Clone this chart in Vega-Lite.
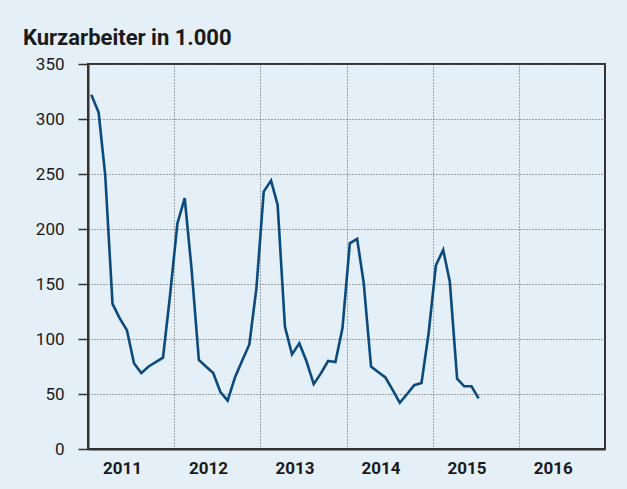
{
  "$schema": "https://vega.github.io/schema/vega-lite/v6.json",
  "autosize": {"type": "none"},
  "width": 517,
  "height": 385,
  "padding": {"left": 88, "top": 64, "right": 22, "bottom": 40},
  "background": "#e5eff7",
  "title": {
    "text": "Kurzarbeiter in 1.000",
    "anchor": "start",
    "frame": "group",
    "orient": "top",
    "dx": -65,
    "dy": 31,
    "offset": 19,
    "baseline": "alphabetic",
    "font": "Roboto",
    "fontSize": 22,
    "fontWeight": "bold",
    "color": "#1a1a1a"
  },
  "config": {
    "view": {"stroke": "#333333", "strokeWidth": 2, "fill": "#e5eff7"},
    "font": "Roboto"
  },
  "data": {
    "values": [
      {"date": "2011-01-15", "v": 322}, {"date": "2011-02-15", "v": 306}, {"date": "2011-03-15", "v": 249},
      {"date": "2011-04-15", "v": 132}, {"date": "2011-05-15", "v": 119}, {"date": "2011-06-15", "v": 108},
      {"date": "2011-07-15", "v": 78}, {"date": "2011-08-15", "v": 69}, {"date": "2011-09-15", "v": 75},
      {"date": "2011-10-15", "v": 79}, {"date": "2011-11-15", "v": 83}, {"date": "2011-12-15", "v": 140},
      {"date": "2012-01-15", "v": 205}, {"date": "2012-02-15", "v": 228}, {"date": "2012-03-15", "v": 164},
      {"date": "2012-04-15", "v": 81}, {"date": "2012-05-15", "v": 75}, {"date": "2012-06-15", "v": 69},
      {"date": "2012-07-15", "v": 52}, {"date": "2012-08-15", "v": 44}, {"date": "2012-09-15", "v": 65},
      {"date": "2012-10-15", "v": 80}, {"date": "2012-11-15", "v": 95}, {"date": "2012-12-15", "v": 146},
      {"date": "2013-01-15", "v": 234}, {"date": "2013-02-15", "v": 244}, {"date": "2013-03-15", "v": 222},
      {"date": "2013-04-15", "v": 111}, {"date": "2013-05-15", "v": 86}, {"date": "2013-06-15", "v": 96},
      {"date": "2013-07-15", "v": 80}, {"date": "2013-08-15", "v": 59}, {"date": "2013-09-15", "v": 69},
      {"date": "2013-10-15", "v": 80}, {"date": "2013-11-15", "v": 79}, {"date": "2013-12-15", "v": 110},
      {"date": "2014-01-15", "v": 187}, {"date": "2014-02-15", "v": 191}, {"date": "2014-03-15", "v": 151},
      {"date": "2014-04-15", "v": 75}, {"date": "2014-05-15", "v": 70}, {"date": "2014-06-15", "v": 65},
      {"date": "2014-07-15", "v": 54}, {"date": "2014-08-15", "v": 42}, {"date": "2014-09-15", "v": 50},
      {"date": "2014-10-15", "v": 58}, {"date": "2014-11-15", "v": 60}, {"date": "2014-12-15", "v": 105},
      {"date": "2015-01-15", "v": 167}, {"date": "2015-02-15", "v": 181}, {"date": "2015-03-15", "v": 152},
      {"date": "2015-04-15", "v": 64}, {"date": "2015-05-15", "v": 57}, {"date": "2015-06-15", "v": 57},
      {"date": "2015-07-15", "v": 46}
    ]
  },
  "mark": {"type": "line", "color": "#0b4a7d", "strokeWidth": 2.6, "strokeJoin": "miter", "clip": true},
  "encoding": {
    "x": {
      "field": "date",
      "type": "temporal",
      "scale": {"type": "utc", "domain": [{"year": 2011, "month": 1, "date": 1, "utc": true}, {"year": 2017, "month": 1, "date": 1, "utc": true}]},
      "axis": {
        "title": null,
        "values": [
          {"year": 2011, "month": 1, "date": 1, "utc": true},
          {"year": 2012, "month": 1, "date": 1, "utc": true},
          {"year": 2013, "month": 1, "date": 1, "utc": true},
          {"year": 2014, "month": 1, "date": 1, "utc": true},
          {"year": 2015, "month": 1, "date": 1, "utc": true},
          {"year": 2016, "month": 1, "date": 1, "utc": true}
        ],
        "format": "%Y",
        "formatType": "utc",
        "ticks": false,
        "domain": true,
        "domainColor": "#333333",
        "domainWidth": 2,
        "grid": true,
        "gridColor": "#555555",
        "gridDash": [1, 2],
        "gridWidth": 1,
        "labelAlign": "center",
        "labelOffset": 34,
        "labelPadding": 11,
        "labelFont": "Roboto",
        "labelFontSize": 17,
        "labelFontWeight": "bold",
        "labelColor": "#1a1a1a",
        "labelFlush": false,
        "labelOverlap": false
      }
    },
    "y": {
      "field": "v",
      "type": "quantitative",
      "scale": {"domain": [0, 350], "nice": false, "zero": true},
      "axis": {
        "title": null,
        "values": [0, 50, 100, 150, 200, 250, 300, 350],
        "domain": true,
        "domainColor": "#333333",
        "domainWidth": 2,
        "ticks": true,
        "tickSize": 10,
        "tickColor": "#333333",
        "tickWidth": 1.5,
        "grid": true,
        "gridColor": "#555555",
        "gridDash": [1, 2],
        "gridWidth": 1,
        "labelPadding": 14,
        "labelFont": "Roboto",
        "labelFontSize": 17,
        "labelColor": "#1a1a1a",
        "labelFlush": false,
        "labelOverlap": false
      }
    }
  }
}
